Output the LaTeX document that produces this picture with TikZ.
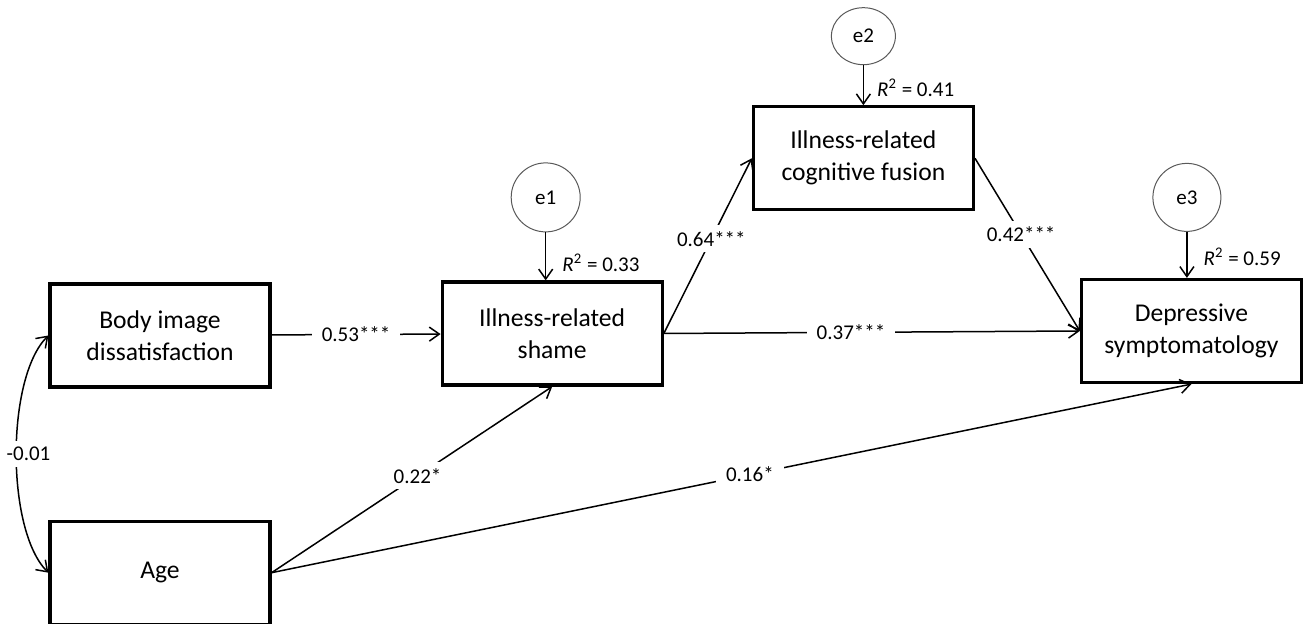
\documentclass[tikz,border=0pt]{standalone}
\usepackage{fontspec}
\setmainfont{Carlito}
\usepackage{tikz}
\usetikzlibrary{positioning,shapes.geometric,arrows.meta}

\begin{document}
\begin{tikzpicture}[>={Straight Barb[length=5pt,width=7pt]}, line width=0.75pt,
every node/.style={font=\fontsize{10.5}{12}\selectfont},
varbox/.style={draw, line width=1.6pt, minimum width=110pt, minimum height=51.5pt,
align=center, font=\fontsize{12.8}{16}\selectfont},
errnode/.style={draw=black!65, line width=0.5pt, circle, minimum size=34.5pt, inner sep=0pt},
coef/.style={fill=white, inner sep=3pt, inner xsep=5pt},
rsq/.style={anchor=west, inner sep=0pt}]
\useasboundingbox (-80pt,-144.25pt) rectangle (571.5pt,167.75pt);
\node[varbox] (body) at (0,0) {Body image\\dissatisfaction};
\node[varbox, below=65.5pt of body] (age) {Age};
\node[varbox, right=84.5pt of body, yshift=1pt] (shame) {Illness-related\\shame};
\node[varbox, right=208pt of shame, yshift=1.25pt] (dep) {Depressive\\symptomatology};
\node[varbox, above right=34.5pt and 44pt of shame] (cog) {Illness-related\\cognitive fusion};
\node[errnode, above=24pt of shame, xshift=-3.25pt] (e1) {e1};
\node[errnode, ellipse, minimum width=32pt, minimum height=28.5pt, above=20pt of cog] (e2) {e2};
\node[errnode, minimum size=34pt, above=23pt of dep, xshift=-2.25pt] (e3) {e3};
\draw[->] (e1) -- (e1 |- shame.north);
\draw[->] (e2) -- (e2 |- cog.north);
\draw[->] (e3) -- (e3 |- dep.north);
\path (e1 |- shame.north) ++(8pt,9pt) node[rsq] (r1) {\textit{R}\textsuperscript{2} = 0.33};
\path (e2 |- cog.north) ++(6.5pt,8.5pt) node[rsq] (r2) {\textit{R}\textsuperscript{2} = 0.41};
\path (e3 |- dep.north) ++(8pt,10.5pt) node[rsq] (r3) {\textit{R}\textsuperscript{2} = 0.59};
\draw[->] (body) -- node[coef]{0.53***} (shame);
\draw[->] (shame.east) -- node[coef, pos=0.54]{0.64***} (cog.west);
\draw[->] (cog.east) -- node[coef, pos=0.44]{0.42***} (dep.west);
\draw[->] (shame.east) -- node[coef, pos=0.45]{0.37***} (dep.west);
\draw[->] (age.east) -- node[coef, pos=0.52]{0.22*} (shame.south);
\draw[->] (age.east) -- node[coef, pos=0.52]{0.16*} (dep.south);
\draw[<->] (body.west) to[bend right=45, looseness=0.65] node[coef, xshift=6pt]{-0.01} (age.west);
\end{tikzpicture}
\end{document}
